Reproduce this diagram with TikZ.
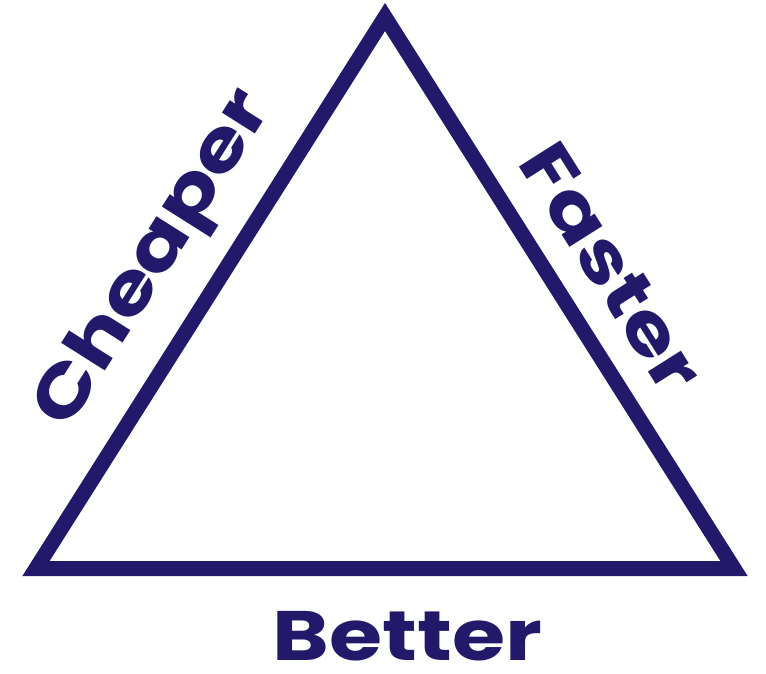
\documentclass[tikz,border=0pt]{standalone}
\usepackage{fontspec}
\newfontfamily\labelfont{Poppins}
\usetikzlibrary{calc}

\definecolor{triColour}{HTML}{22196B}

% Widen the label lettering
\newcommand{\wideLabel}[1]{\scalebox{1.23}[1]{#1}}

\begin{document}
\begin{tikzpicture}[x=1pt, y=1pt]
    % Fix the canvas
    \useasboundingbox (0,0) rectangle (766,673);

    % Label style
    \tikzset{sideLabel/.style={text=triColour, font=\labelfont\bfseries\fontsize{70}{70}\selectfont, inner sep=0pt, anchor=base}}

    % Corners of the triangle
    \coordinate (bottomLeft) at (36,104.5);
    \coordinate (apex) at (385,656);
    \coordinate (bottomRight) at (734,104.5);

    % Draw the triangle
    \draw[draw=triColour, line width=15pt, miter limit=10] (bottomLeft) -- (apex) -- (bottomRight) -- cycle;

    % Baselines parallel to the two slanted sides
    \coordinate (cheapStart) at ($(bottomLeft)!47pt!90:(apex)$);
    \coordinate (cheapEnd) at ($(apex)!47pt!-90:(bottomLeft)$);
    \coordinate (fastStart) at ($(apex)!33pt!90:(bottomRight)$);
    \coordinate (fastEnd) at ($(bottomRight)!33pt!-90:(apex)$);

    % Side labels
    \path (cheapStart) -- (cheapEnd) node[sideLabel, sloped, pos=0.497] (cheaper) {\wideLabel{Cheaper}};
    \path (fastStart) -- (fastEnd) node[sideLabel, sloped, pos=0.51] (faster) {\wideLabel{Faster}};
    \node[sideLabel] (better) at (407.5,13) {\wideLabel{Better}};
\end{tikzpicture}
\end{document}
